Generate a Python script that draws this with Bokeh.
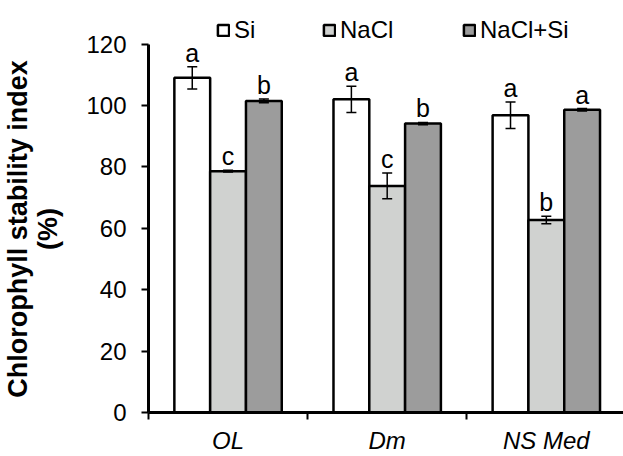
import numpy as np
from bokeh.plotting import figure
from bokeh.models import (ColumnDataSource, Range1d, FixedTicker, Legend, LegendItem,
                          Whisker, TeeHead)
from bokeh.core.properties import value
from bokeh.embed import file_html
from bokeh.resources import INLINE

# ---- data ----
categories = ["OL", "Dm", "NS Med"]
series = ["Si", "NaCl", "NaCl+Si"]
si_mean = [109.0, 102.0, 96.8]
si_err = [3.6, 4.3, 4.3]
nacl_mean = [78.6, 73.8, 62.7]
nacl_err = [0.3, 4.2, 1.2]
naclsi_mean = [101.5, 94.1, 98.6]
naclsi_err = [0.6, 0.4, 0.4]
si_letters = ["a", "a", "a"]
nacl_letters = ["c", "c", "b"]
naclsi_letters = ["b", "b", "a"]
y_ticks = [0, 20, 40, 60, 80, 100, 120]
y_title = ["Chlorophyll stability index", "(%)"]

FONT = "Liberation Sans"
colors = ["#ffffff", "#d0d2d0", "#9c9c9c"]
offsets = [-0.225, 0.0, 0.225]
bar_w = 0.225

# frame reaches the top of the canvas so the legend can sit above the 120 mark;
# the y axis line is bounded to 0..120
p = figure(width=623, height=456, output_backend="svg", toolbar_location=None,
           x_range=Range1d(0, 2.985), y_range=Range1d(0, 134.2),
           min_border_left=145, min_border_right=0, min_border_top=0, min_border_bottom=44)
p.xgrid.visible = False
p.ygrid.visible = False
p.outline_line_color = None
p.background_fill_color = "white"
p.border_fill_color = "white"

centers = np.arange(len(categories)) + 0.5
means = [si_mean, nacl_mean, naclsi_mean]
errs = [si_err, nacl_err, naclsi_err]
letters = [si_letters, nacl_letters, naclsi_letters]

renderers = []
for i, name in enumerate(series):
    m = np.array(means[i]); e = np.array(errs[i])
    src = ColumnDataSource(dict(x=centers + offsets[i], top=m, lo=m - e, hi=m + e,
                                lab=letters[i]))
    r = p.vbar(x="x", top="top", width=bar_w, bottom=0, source=src,
               fill_color=colors[i], line_color="black", line_width=2.5)
    renderers.append(r)
    w = Whisker(source=src, base="x", lower="lo", upper="hi", level="annotation",
                line_color="black", line_width=1.5,
                upper_head=TeeHead(size=10, line_color="black", line_width=1.5),
                lower_head=TeeHead(size=10, line_color="black", line_width=1.5))
    p.add_layout(w)
    p.text(x="x", y="hi", text="lab", source=src, text_align="center",
           text_baseline="bottom", y_offset=0, text_font=value(FONT),
           text_font_size="25px", text_color="black")

# legends (one per item) at the top of the frame
legend_x = [68, 174, 314]
for i, name in enumerate(series):
    leg = Legend(items=[LegendItem(label=name, renderers=[renderers[i]])],
                 location=(legend_x[i], 368), orientation="horizontal",
                 glyph_width=14, glyph_height=14, label_standoff=4,
                 padding=0, margin=0, spacing=0,
                 border_line_alpha=0, background_fill_alpha=0,
                 label_text_font=FONT, label_text_font_size="24px",
                 label_text_color="black")
    p.add_layout(leg)

# y axis
ya = p.yaxis[0]
ya.ticker = FixedTicker(ticks=y_ticks)
ya.bounds = (0, 120)
ya.axis_line_width = 3
ya.axis_line_color = "black"
ya.major_tick_out = 7
ya.major_tick_in = 0
ya.major_tick_line_width = 2
ya.minor_tick_line_color = None
ya.major_label_standoff = 15
ya.major_label_text_font = FONT
ya.major_label_text_font_size = "24px"
ya.major_label_text_color = "black"

# y axis title (two centred lines); trailing no-break spaces re-centre the
# title on the 0..120 part of the axis instead of the taller frame
pad = "\u00a0" * 6
ya.axis_label = "\n".join(t + pad for t in y_title)
ya.axis_label_text_font = FONT
ya.axis_label_text_font_style = "bold"
ya.axis_label_text_font_size = "27px"
ya.axis_label_text_line_height = 1.0
ya.axis_label_text_color = "black"
ya.axis_label_standoff = 20

# x axis
xa = p.xaxis[0]
xa.ticker = FixedTicker(ticks=list(centers), minor_ticks=[0, 1, 2, 3])
xa.major_label_overrides = {float(c): n for c, n in zip(centers, categories)}
xa.axis_line_width = 3
xa.axis_line_color = "black"
xa.major_tick_out = 0
xa.major_tick_in = 0
xa.major_tick_line_color = None
xa.minor_tick_out = 7
xa.minor_tick_in = 0
xa.minor_tick_line_width = 2
xa.minor_tick_line_color = "black"
xa.major_label_standoff = 7
xa.major_label_text_font = FONT
xa.major_label_text_font_style = "italic"
xa.major_label_text_font_size = "24px"
xa.major_label_text_color = "black"

open("out.html", "w").write(file_html(p, INLINE))
